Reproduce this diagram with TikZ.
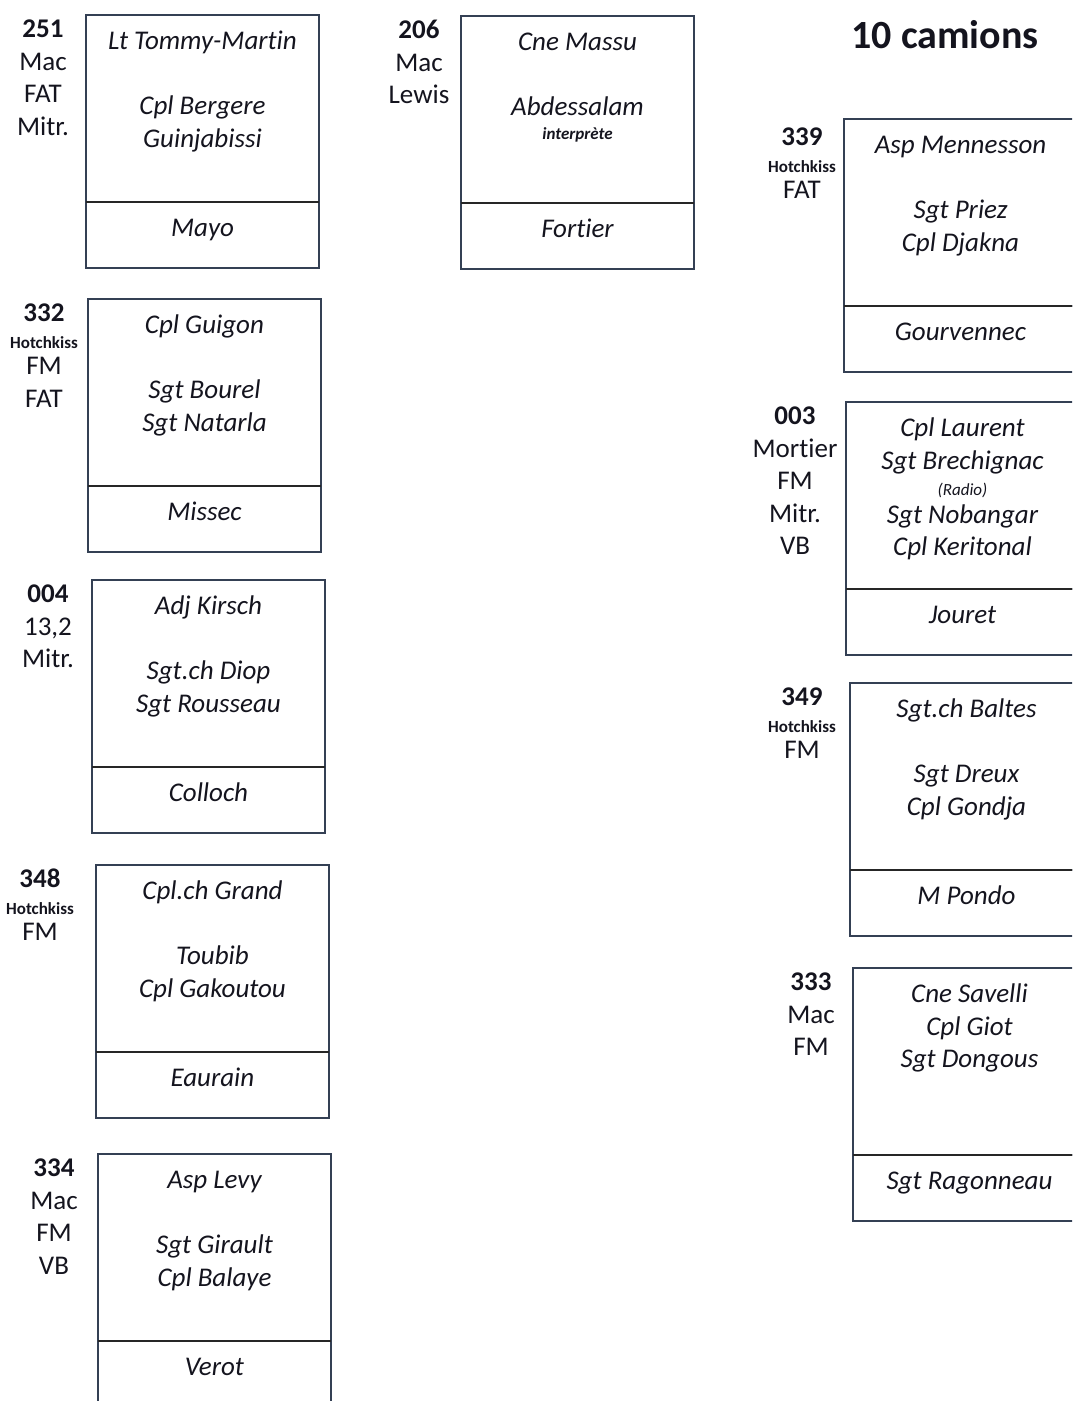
\documentclass[tikz,border=0pt]{standalone}
\usepackage{fontspec}
\setmainfont[Ligatures=CommonOff]{Carlito}
\usetikzlibrary{positioning}

\definecolor{boxcol}{RGB}{52,64,84}
\definecolor{inkcol}{RGB}{20,20,30}
\newcommand{\namefont}{\fontsize{27}{32.5}\selectfont\itshape}
\newcommand{\lblfont}{\fontsize{27}{32.5}\selectfont}
\newcommand{\smallb}{\fontsize{17}{20}\selectfont\bfseries}
\newcommand{\smalli}{\fontsize{17}{20}\selectfont\itshape}

\begin{document}
\begin{tikzpicture}[x=1pt, y=-1pt, text=inkcol]
\tikzstyle{crew}=[draw=boxcol, line width=1.6pt, minimum width=233pt, minimum height=187pt, inner sep=0pt, outer sep=0pt]
\tikzstyle{driver}=[draw=boxcol, line width=1.6pt, minimum width=233pt, minimum height=66pt, inner sep=0pt, outer sep=0pt, text height=16pt, text depth=14pt, font=\namefont]
\tikzstyle{names}=[anchor=north, align=center, inner sep=0pt, font=\namefont]
\tikzstyle{veh}=[anchor=north, align=center, inner sep=0pt, font=\lblfont]
\tikzstyle{divider}=[line width=2.2pt, draw=black!85]

\useasboundingbox (0,0) rectangle (1072,1401);
\clip (0,0) rectangle (1072,1401);

\node[font=\fontsize{40}{48}\selectfont\bfseries] (title) at (945,35) {10 camions};

% left column
\node[crew]   (c251) at (202.5,108.5) {};
\node[driver] (d251) [below=0pt of c251] {Mayo};
\node[names]  (n251) at ([yshift=-12pt]c251.north) {\strut Lt Tommy-Martin\\\mbox{}\\Cpl Bergere\\Guinjabissi};
\node[veh]    (v251) at ([xshift=-43pt]c251.north west) {\strut\textbf{251}\\Mac\\FAT\\Mitr.};

\node[crew]   (c332) [below=31pt of d251, xshift=2pt] {};
\node[driver] (d332) [below=0pt of c332] {Missec};
\node[names]  (n332) at ([yshift=-12pt]c332.north) {\strut Cpl Guigon\\\mbox{}\\Sgt Bourel\\Sgt Natarla};
\node[veh]    (v332) at ([xshift=-44pt]c332.north west) {\strut\textbf{332}\\[-6pt]{\smallb Hotchkiss}\\[-6pt]FM\\FAT};

\node[crew]   (c004) [below=28pt of d332, xshift=4pt] {};
\node[driver] (d004) [below=0pt of c004] {Colloch};
\node[names]  (n004) at ([yshift=-12pt]c004.north) {\strut Adj Kirsch\\\mbox{}\\Sgt.ch Diop\\Sgt Rousseau};
\node[veh]    (v004) at ([xshift=-44pt]c004.north west) {\strut\textbf{004}\\13,2\\Mitr.};

\node[crew]   (c348) [below=32pt of d004, xshift=4pt] {};
\node[driver] (d348) [below=0pt of c348] {Eaurain};
\node[names]  (n348) at ([yshift=-12pt]c348.north) {\strut Cpl.ch Grand\\\mbox{}\\Toubib\\Cpl Gakoutou};
\node[veh]    (v348) at ([xshift=-56pt]c348.north west) {\strut\textbf{348}\\[-6pt]{\smallb Hotchkiss}\\[-6pt]FM};

\node[crew]   (c334) [below=36pt of d348, xshift=2pt] {};
\node[driver] (d334) [below=0pt of c334] {Verot};
\node[names]  (n334) at ([yshift=-12pt]c334.north) {\strut Asp Levy\\\mbox{}\\Sgt Girault\\Cpl Balaye};
\node[veh]    (v334) at ([xshift=-44pt]c334.north west) {\strut\textbf{334}\\Mac\\FM\\VB};

% middle
\node[crew]   (c206) [right=142pt of c251, yshift=-1pt] {};
\node[driver] (d206) [below=0pt of c206] {Fortier};
\node[names]  (n206) at ([yshift=-12pt]c206.north) {\strut Cne Massu\\\mbox{}\\Abdessalam\\[-9pt]{\smallb\itshape interprète}};
\node[veh]    (v206) at ([xshift=-42pt]c206.north west) {\strut\textbf{206}\\Mac\\Lewis};

% right column
\node[crew]   (c339) at (960.5,212.5) {};
\node[driver] (d339) [below=0pt of c339] {Gourvennec};
\node[names]  (n339) at ([yshift=-12pt]c339.north) {\strut Asp Mennesson\\\mbox{}\\Sgt Priez\\Cpl Djakna};
\node[veh]    (v339) at ([xshift=-42pt, yshift=-4pt]c339.north west) {\strut\textbf{339}\\[-6pt]{\smallb Hotchkiss}\\[-6pt]FAT};

\node[crew]   (c003) [below=30pt of d339, xshift=2pt] {};
\node[driver] (d003) [below=0pt of c003] {Jouret};
\node[names]  (n003) at ([yshift=-12pt]c003.north) {\strut Cpl Laurent\\Sgt Brechignac\\[-6pt]{\smalli (Radio)}\\[-5pt]Sgt Nobangar\\Cpl Keritonal};
\node[veh]    (v003) at ([xshift=-51pt]c003.north west) {\strut\textbf{003}\\Mortier\\FM\\Mitr.\\VB};

\node[crew]   (c349) [below=28pt of d003, xshift=4pt] {};
\node[driver] (d349) [below=0pt of c349] {M Pondo};
\node[names]  (n349) at ([yshift=-12pt]c349.north) {\strut Sgt.ch Baltes\\\mbox{}\\Sgt Dreux\\Cpl Gondja};
\node[veh]    (v349) at ([xshift=-48pt]c349.north west) {\strut\textbf{349}\\[-6pt]{\smallb Hotchkiss}\\[-6pt]FM};

\node[crew]   (c333) [below=32pt of d349, xshift=3pt] {};
\node[driver] (d333) [below=0pt of c333] {Sgt Ragonneau};
\node[names]  (n333) at ([yshift=-12pt]c333.north) {\strut Cne Savelli\\Cpl Giot\\Sgt Dongous};
\node[veh]    (v333) at ([xshift=-42pt]c333.north west) {\strut\textbf{333}\\Mac\\FM};

% dividers
\foreach \b in {251,332,004,348,334,206,339,003,349,333}
  \draw[divider] (c\b.south west) -- (c\b.south east);

\end{tikzpicture}
\end{document}
